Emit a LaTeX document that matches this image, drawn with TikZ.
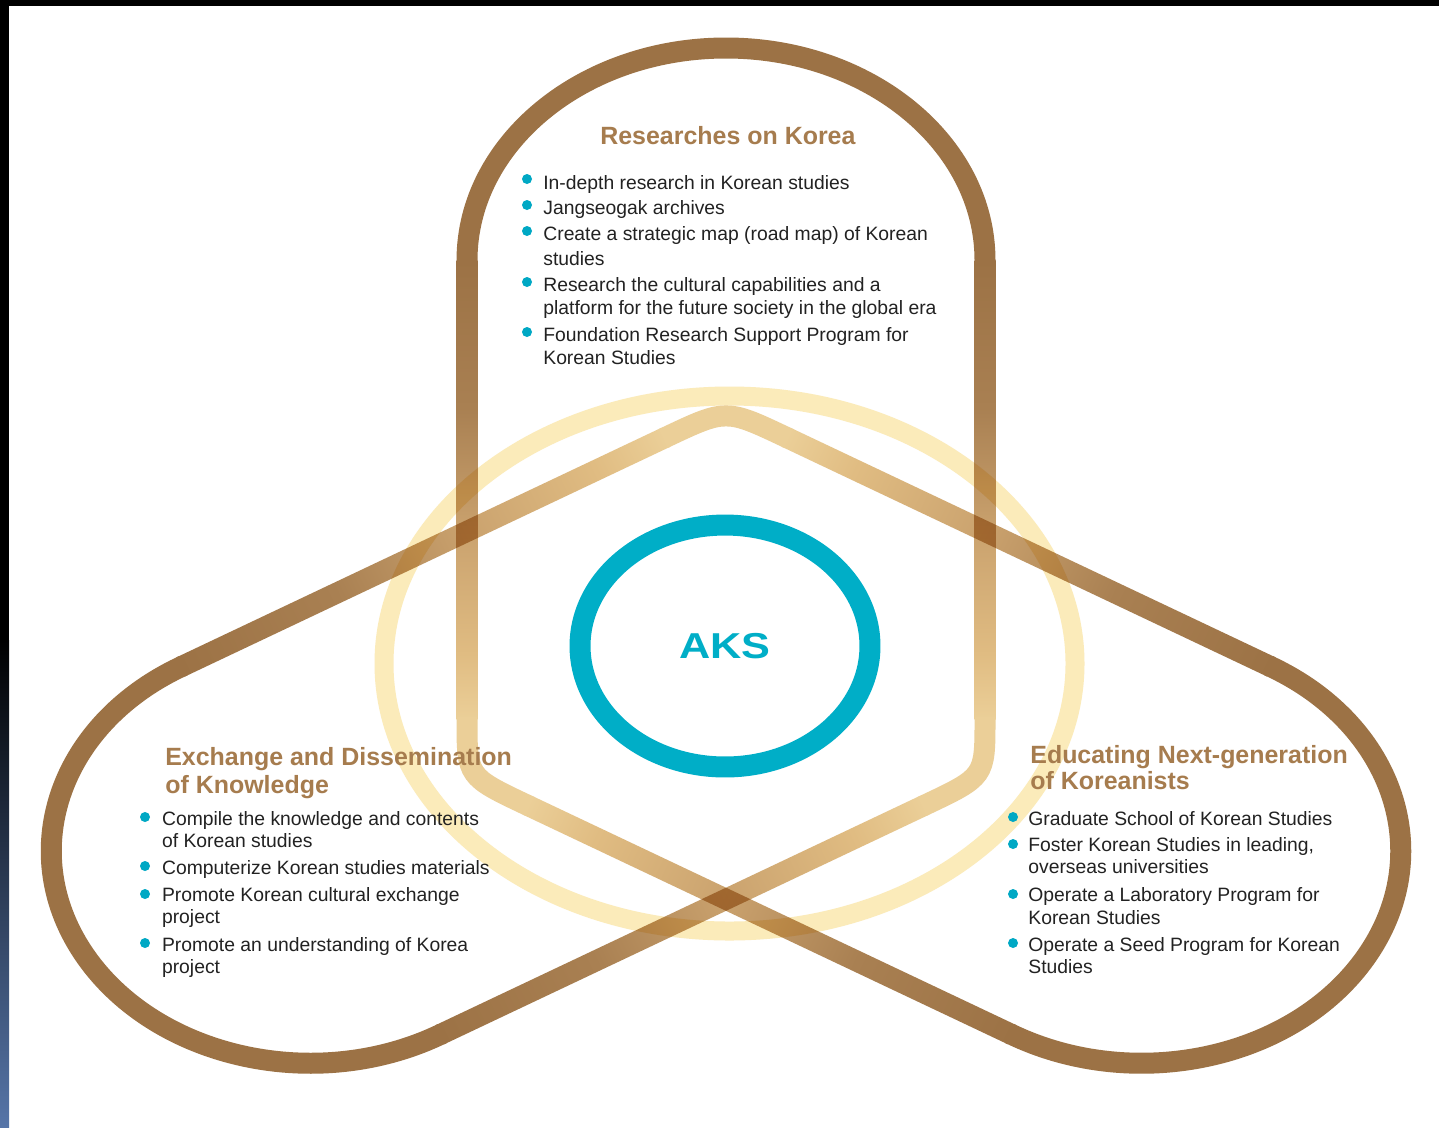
\documentclass[tikz,border=0pt]{standalone}
\usepackage{fontspec}
\setmainfont{Liberation Sans}
\newfontfamily\aksfont{Liberation Sans}[FakeStretch=1.2]
\usetikzlibrary{shapes.geometric,calc}
\definecolor{capA}{HTML}{9C7245}
\definecolor{capS1}{HTML}{A98052}
\definecolor{capS2}{HTML}{CAA26E}
\definecolor{capS3}{HTML}{E0BC82}
\definecolor{capS4}{HTML}{EBCF98}
\definecolor{ringY}{HTML}{FBEBBA}
\definecolor{aksTeal}{HTML}{00AEC7}
\definecolor{dotC}{HTML}{00A8C4}
\definecolor{headC}{HTML}{A67C4E}
\definecolor{bodyC}{HTML}{222222}
\definecolor{stripB}{HTML}{5675A8}
\pgfdeclarehorizontalshading{capfade}{100bp}{color(0bp)=(capA); color(25bp)=(capA);
  color(41.07bp)=(capS1); color(54.46bp)=(capS2); color(67.86bp)=(capS3);
  color(75bp)=(capS4); color(100bp)=(capS4)}
\begin{document}
\begin{tikzpicture}[x=0.02cm, y=-0.02cm,
  head/.style={font=\fontsize{14.2}{16}\selectfont\bfseries, text=headC, inner sep=0pt, anchor=base west},
  body/.style={font=\fontsize{11}{13}\selectfont, text=bodyC, inner sep=0pt, anchor=base west},
  bullet/.style={circle, fill=dotC, draw=none, inner sep=0pt, minimum size=0.2cm},
  capline/.style={line width=0.42cm, line cap=butt}]
% canvas
\fill[white] (0,0) rectangle (1439,1127);
\useasboundingbox (0,0) rectangle (1439,1127);
\fill[black] (0,0) rectangle (1439,6);
\fill[black] (0,0) rectangle (9,640);
\shade[top color=black, bottom color=stripB] (0,640) rectangle (9,1127);
% yellow ring
\draw[ringY, line width=0.38cm] (729.5,663.5) ellipse[x radius=345.5, y radius=267.5];
% anchor points of the three lobes
\foreach \ang/\nm in {0/a,120/b,-120/c} {
  \begin{scope}[shift={(726,654)}, x=0.02cm, y=0.02cm, yscale=0.82, rotate=\ang]
    \coordinate (s1\nm) at (-259,480);
    \coordinate (e1\nm) at (-259,-80);
    \coordinate (s2\nm) at (259,480);
    \coordinate (e2\nm) at (259,-80);
  \end{scope}
}
% straight sides with a colour gradient (multiplied, so crossings darken)
\foreach \nm in {a,b,c} {
  \foreach \side in {1,2} {
    \path let \p1=(s\side\nm), \p2=(e\side\nm) in
      \pgfextra{\pgfmathsetmacro\tmpang{atan2(\y2-\y1,\x2-\x1)}%
                \pgfmathsetmacro\tmplen{100*veclen((\x2-\x1)/100,(\y2-\y1)/100)}%
                \xdef\gang{\tmpang}\xdef\glen{\tmplen}};
    \begin{scope}[transform canvas={shift={(s\side\nm)}, rotate=\gang}, blend mode=multiply]
      \shade[shading=capfade] (0pt,-5.97pt) rectangle ({\glen*1pt},5.97pt);
    \end{scope}
  }
}
% round ends and rounded inner corners
\foreach \ang/\nm in {0/a,120/b,-120/c} {
  \begin{scope}[shift={(726,654)}, x=0.02cm, y=0.02cm, yscale=0.82, rotate=\ang]
    \draw[capA, capline] (-259,477) -- (s1\nm) arc[start angle=180, end angle=0, radius=259] -- (259,477);
    \draw[capS4, capline] (259,-77) -- (e2\nm) .. controls (259,-149.53) .. (198.78,-184.30) -- (196.18,-185.80);
  \end{scope}
}
% centre
\node[ellipse, draw=aksTeal, line width=0.42cm, minimum width=5.8cm, minimum height=4.84cm,
      text=aksTeal, font=\aksfont\bfseries\fontsize{20.5}{22}\selectfont] (aks) at (725,646) {AKS};
% top group
\node[head] (h1) at (600,144) {Researches on Korea};
\node[body] (t1) at (543,189) {In-depth research in Korean studies};
\node[body] (t2) at (543,214) {Jangseogak archives};
\node[body] (t3) at (543,240) {Create a strategic map (road map) of Korean};
\node[body] (t4) at (543,265) {studies};
\node[body] (t5) at (543,291.7) {Research the cultural capabilities and a};
\node[body] (t6) at (543,314) {platform for the future society in the global era};
\node[body] (t7) at (543,341.7) {Foundation Research Support Program for};
\node[body] (t8) at (543,364) {Korean Studies};
\node[bullet] (tb1) at (527,179) {};
\node[bullet] (tb2) at (527,205) {};
\node[bullet] (tb3) at (527,231) {};
\node[bullet] (tb4) at (527,282) {};
\node[bullet] (tb5) at (527,332) {};
% left group
\node[head] (h2) at (165,765) {Exchange and Dissemination};
\node[head] (h3) at (165,793) {of Knowledge};
\node[body] (l1) at (161.7,825) {Compile the knowledge and contents};
\node[body] (l2) at (161.7,847) {of Korean studies};
\node[body] (l3) at (161.7,874) {Computerize Korean studies materials};
\node[body] (l4) at (161.7,901.7) {Promote Korean cultural exchange};
\node[body] (l5) at (161.7,923) {project};
\node[body] (l6) at (161.7,951.7) {Promote an understanding of Korea};
\node[body] (l7) at (161.7,973) {project};
\node[bullet] (lb1) at (145,817) {};
\node[bullet] (lb2) at (145,866) {};
\node[bullet] (lb3) at (145,894) {};
\node[bullet] (lb4) at (145,943) {};
% right group
\node[head] (h4) at (1030,763) {Educating Next-generation};
\node[head] (h5) at (1030,789) {of Koreanists};
\node[body] (r1) at (1028,825) {Graduate School of Korean Studies};
\node[body] (r2) at (1028,851.7) {Foster Korean Studies in leading,};
\node[body] (r3) at (1028,873) {overseas universities};
\node[body] (r4) at (1028,901.7) {Operate a Laboratory Program for};
\node[body] (r5) at (1028,924) {Korean Studies};
\node[body] (r6) at (1028,951.7) {Operate a Seed Program for Korean};
\node[body] (r7) at (1028,973) {Studies};
\node[bullet] (rb1) at (1013,817) {};
\node[bullet] (rb2) at (1013,844) {};
\node[bullet] (rb3) at (1013,894) {};
\node[bullet] (rb4) at (1013,943) {};
\end{tikzpicture}
\end{document}
